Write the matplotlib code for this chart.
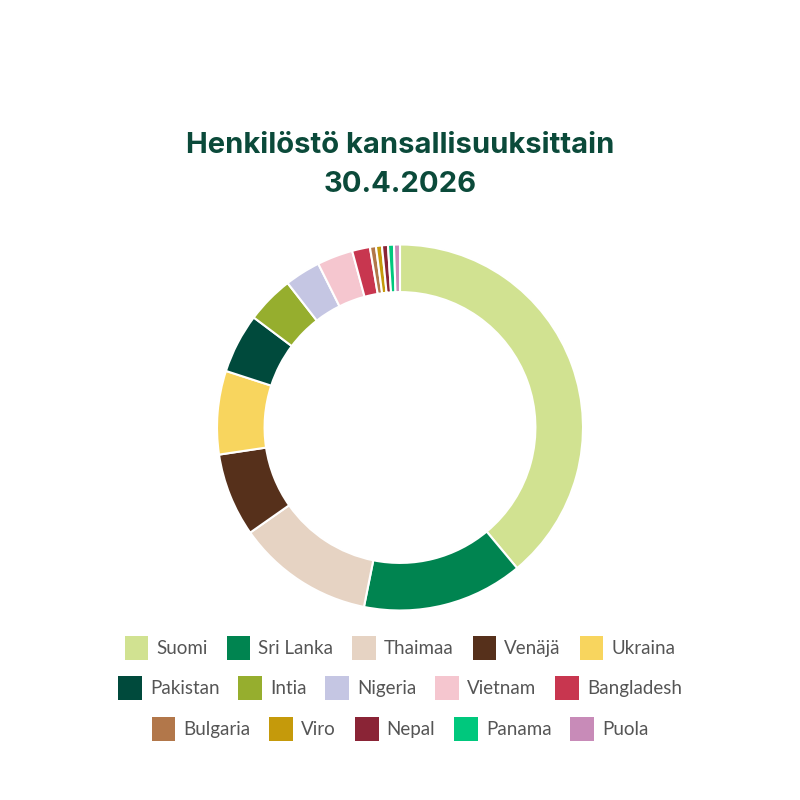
import matplotlib
matplotlib.use("Agg")
import matplotlib.pyplot as plt

# Henkilöstö kansallisuuksittain (headcount)
countries = ["Suomi", "Sri Lanka", "Thaimaa", "Venäjä", "Ukraina",
             "Pakistan", "Intia", "Nigeria", "Vietnam", "Bangladesh",
             "Bulgaria", "Viro", "Nepal", "Panama", "Puola"]
counts = [74, 27, 23, 14, 14, 10, 8, 6, 6, 3, 1, 1, 1, 1, 1]
colors = ["#d1e291", "#008450", "#e6d3c3", "#56301b", "#f8d55e",
          "#004a3c", "#96ae2e", "#c5c6e3", "#f5c6cf", "#c8364f",
          "#b2774a", "#c59a0b", "#8a2436", "#00c87d", "#c88bb8"]

title_color = "#0b4a3a"
text_color = "#555555"

fig = plt.figure(figsize=(8, 8), dpi=100)

# donut
cx, cy, r = 400, 427.5, 183
ax = fig.add_axes([(cx - r) / 800, (800 - cy - r) / 800, 2 * r / 800, 2 * r / 800])
wedges, _ = ax.pie(counts, colors=colors, startangle=90, counterclock=False,
                   radius=1, wedgeprops=dict(width=0.26, edgecolor="white", linewidth=1.5))
ax.set_xlim(-1, 1)
ax.set_ylim(-1, 1)
ax.set_aspect("equal")
ax.axis("off")

# title
fig.text(0.5, 1 - 153 / 800, "Henkilöstö kansallisuuksittain", ha="center", va="baseline",
         fontsize=21, fontweight="bold", family="Inter", color=title_color)
fig.text(0.5, 1 - 192 / 800, "30.4.2026", ha="center", va="baseline",
         fontsize=21, fontweight="bold", family="Inter", color=title_color)

# legend in three centered rows
row_y = [648, 688, 729]
for i, y in enumerate(row_y):
    idx = range(i * 5, i * 5 + 5)
    leg = fig.legend([wedges[j] for j in idx], [countries[j] for j in idx],
                     loc="center", bbox_to_anchor=(0.5, 1 - y / 800), ncol=5,
                     frameon=False, handlelength=1.27, handleheight=1.6,
                     handletextpad=0.43, columnspacing=1.0,
                     borderpad=0, prop={"family": "Lato", "size": 13.5})
    for t in leg.get_texts():
        t.set_color(text_color)
    for h in leg.legend_handles:
        h.set_edgecolor("none")

fig.savefig("out.png", dpi=100, facecolor="white")
